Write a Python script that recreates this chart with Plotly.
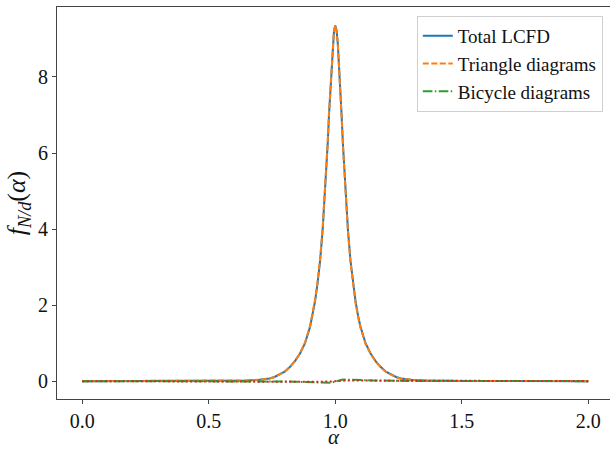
import plotly.graph_objects as go

alpha = [0.0, 0.1, 0.2, 0.3, 0.4, 0.5, 0.55, 0.6, 0.65, 0.7, 0.74, 0.76, 0.78, 0.8, 0.82, 0.84,
         0.86, 0.88, 0.9, 0.91, 0.92, 0.93, 0.94, 0.95, 0.96, 0.965, 0.97, 0.975, 0.98, 0.985,
         0.99, 0.995, 1.0, 1.005, 1.01, 1.015, 1.02, 1.025, 1.03, 1.035, 1.04, 1.05, 1.06, 1.07,
         1.08, 1.09, 1.1, 1.12, 1.14, 1.16, 1.18, 1.2, 1.22, 1.24, 1.26, 1.3, 1.35, 1.4, 1.45,
         1.5, 1.6, 1.7, 1.8, 1.9, 2.0]

total_lcfd = [0.0, 0.0, 0.001, 0.002, 0.003, 0.005, 0.007, 0.01, 0.018, 0.035, 0.07, 0.11, 0.17,
              0.25, 0.37, 0.52, 0.72, 0.99, 1.42, 1.72, 2.10, 2.58, 3.17, 3.98, 5.02, 5.62, 6.25,
              6.99, 7.62, 8.33, 8.87, 9.23, 9.35, 9.23, 8.87, 8.33, 7.62, 6.99, 6.25, 5.62, 5.02,
              3.98, 3.17, 2.58, 2.10, 1.72, 1.42, 0.99, 0.72, 0.52, 0.37, 0.25, 0.17, 0.11, 0.07,
              0.035, 0.018, 0.01, 0.006, 0.004, 0.002, 0.001, 0.0, 0.0, 0.0]

triangle = [0.0, 0.0, 0.001, 0.002, 0.003, 0.005, 0.007, 0.01, 0.018, 0.035, 0.07, 0.11, 0.17,
            0.25, 0.37, 0.53, 0.73, 1.01, 1.45, 1.76, 2.14, 2.63, 3.22, 4.03, 5.07, 5.67, 6.30,
            7.04, 7.66, 8.36, 8.89, 9.24, 9.35, 9.22, 8.85, 8.30, 7.59, 6.95, 6.21, 5.58, 4.98,
            3.94, 3.13, 2.54, 2.06, 1.69, 1.39, 0.97, 0.71, 0.51, 0.36, 0.24, 0.165, 0.105, 0.065,
            0.035, 0.018, 0.01, 0.006, 0.004, 0.002, 0.001, 0.0, 0.0, 0.0]

bicycle = [0.0, 0.0, 0.0, 0.0, 0.001, 0.002, 0.004, 0.005, 0.006, 0.005, 0.003, 0.0, -0.003,
           -0.006, -0.01, -0.015, -0.02, -0.025, -0.03, -0.035, -0.04, -0.045, -0.05, -0.05,
           -0.05, -0.05, -0.05, -0.048, -0.045, -0.04, -0.03, -0.015, 0.0, 0.01, 0.02, 0.025,
           0.03, 0.035, 0.04, 0.04, 0.04, 0.04, 0.04, 0.04, 0.04, 0.035, 0.03, 0.025, 0.018,
           0.015, 0.012, 0.01, 0.008, 0.006, 0.005, 0.003, 0.002, 0.001, 0.0, 0.0, 0.0, 0.0,
           0.0, 0.0, 0.0]

other = [0.0, 0.0, 0.0, 0.0, 0.0, 0.0, 0.0, 0.0, 0.0, 0.0, 0.0, 0.0, 0.0, -0.002, -0.004,
         -0.006, -0.008, -0.01, -0.015, -0.017, -0.02, -0.02, -0.02, -0.02, -0.02, -0.02, -0.02,
         -0.018, -0.015, -0.012, -0.01, -0.005, 0.0, 0.004, 0.008, 0.01, 0.012, 0.014, 0.015,
         0.015, 0.015, 0.015, 0.015, 0.015, 0.012, 0.01, 0.008, 0.005, 0.003, 0.002, 0.001,
         0.0, 0.0, 0.0, 0.0, 0.0, 0.0, 0.0, 0.0, 0.0, 0.0, 0.0, 0.0, 0.0, 0.0]

x_ticks = [0.0, 0.5, 1.0, 1.5, 2.0]
y_ticks = [0, 2, 4, 6, 8]
x_label = "<i>α</i>"
y_label = "<i>f</i><sub><i>N/d</i></sub>(<i>α</i>)"

FONT = "Liberation Serif, DejaVu Serif, serif"
AX = "#444444"

fig = go.Figure()
fig.add_trace(go.Scatter(x=alpha, y=total_lcfd, mode="lines", name="Total LCFD",
                         line=dict(color="#1f77b4", width=2)))
fig.add_trace(go.Scatter(x=alpha, y=triangle, mode="lines", name="Triangle diagrams",
                         line=dict(color="#ff7f0e", width=2, dash="6px,2.5px")))
fig.add_trace(go.Scatter(x=alpha, y=bicycle, mode="lines", name="Bicycle diagrams",
                         line=dict(color="#2ca02c", width=2, dash="9.6px,2.4px,1.5px,2.4px")))
fig.add_trace(go.Scatter(x=alpha, y=other, mode="lines", showlegend=False,
                         line=dict(color="#d62728", width=2, dash="2px,2.5px")))

fig.update_layout(
    width=610, height=449,
    margin=dict(l=57, r=0, t=7, b=50, autoexpand=False),
    paper_bgcolor="white", plot_bgcolor="white",
    font=dict(family=FONT, size=19, color="#111111"),
    showlegend=True,
    legend=dict(x=0.987, y=0.977, xanchor="right", yanchor="top",
                bgcolor="rgba(255,255,255,0.8)", bordercolor="#d0d0d0", borderwidth=1,
                font=dict(family=FONT, size=19, color="#111111")),
    xaxis=dict(range=[-0.1, 2.0858], tickvals=x_ticks, tickformat=".1f", automargin=False,
               showgrid=False, zeroline=False, showline=True, linecolor=AX, linewidth=1,
               mirror=True, ticks="outside", ticklen=4, tickcolor=AX,
               tickfont=dict(size=20),
               title=dict(text=x_label, font=dict(size=21), standoff=4)),
    yaxis=dict(range=[-0.47, 9.84], tickvals=y_ticks, automargin=False,
               showgrid=False, zeroline=False, showline=True, linecolor=AX, linewidth=1,
               ticks="outside", ticklen=4, tickcolor=AX,
               tickfont=dict(size=20),
               title=dict(text=y_label, font=dict(size=26), standoff=4)),
)

fig.write_html("out.html", config={"displayModeBar": False},
               post_script="document.body.style.margin='0';")
